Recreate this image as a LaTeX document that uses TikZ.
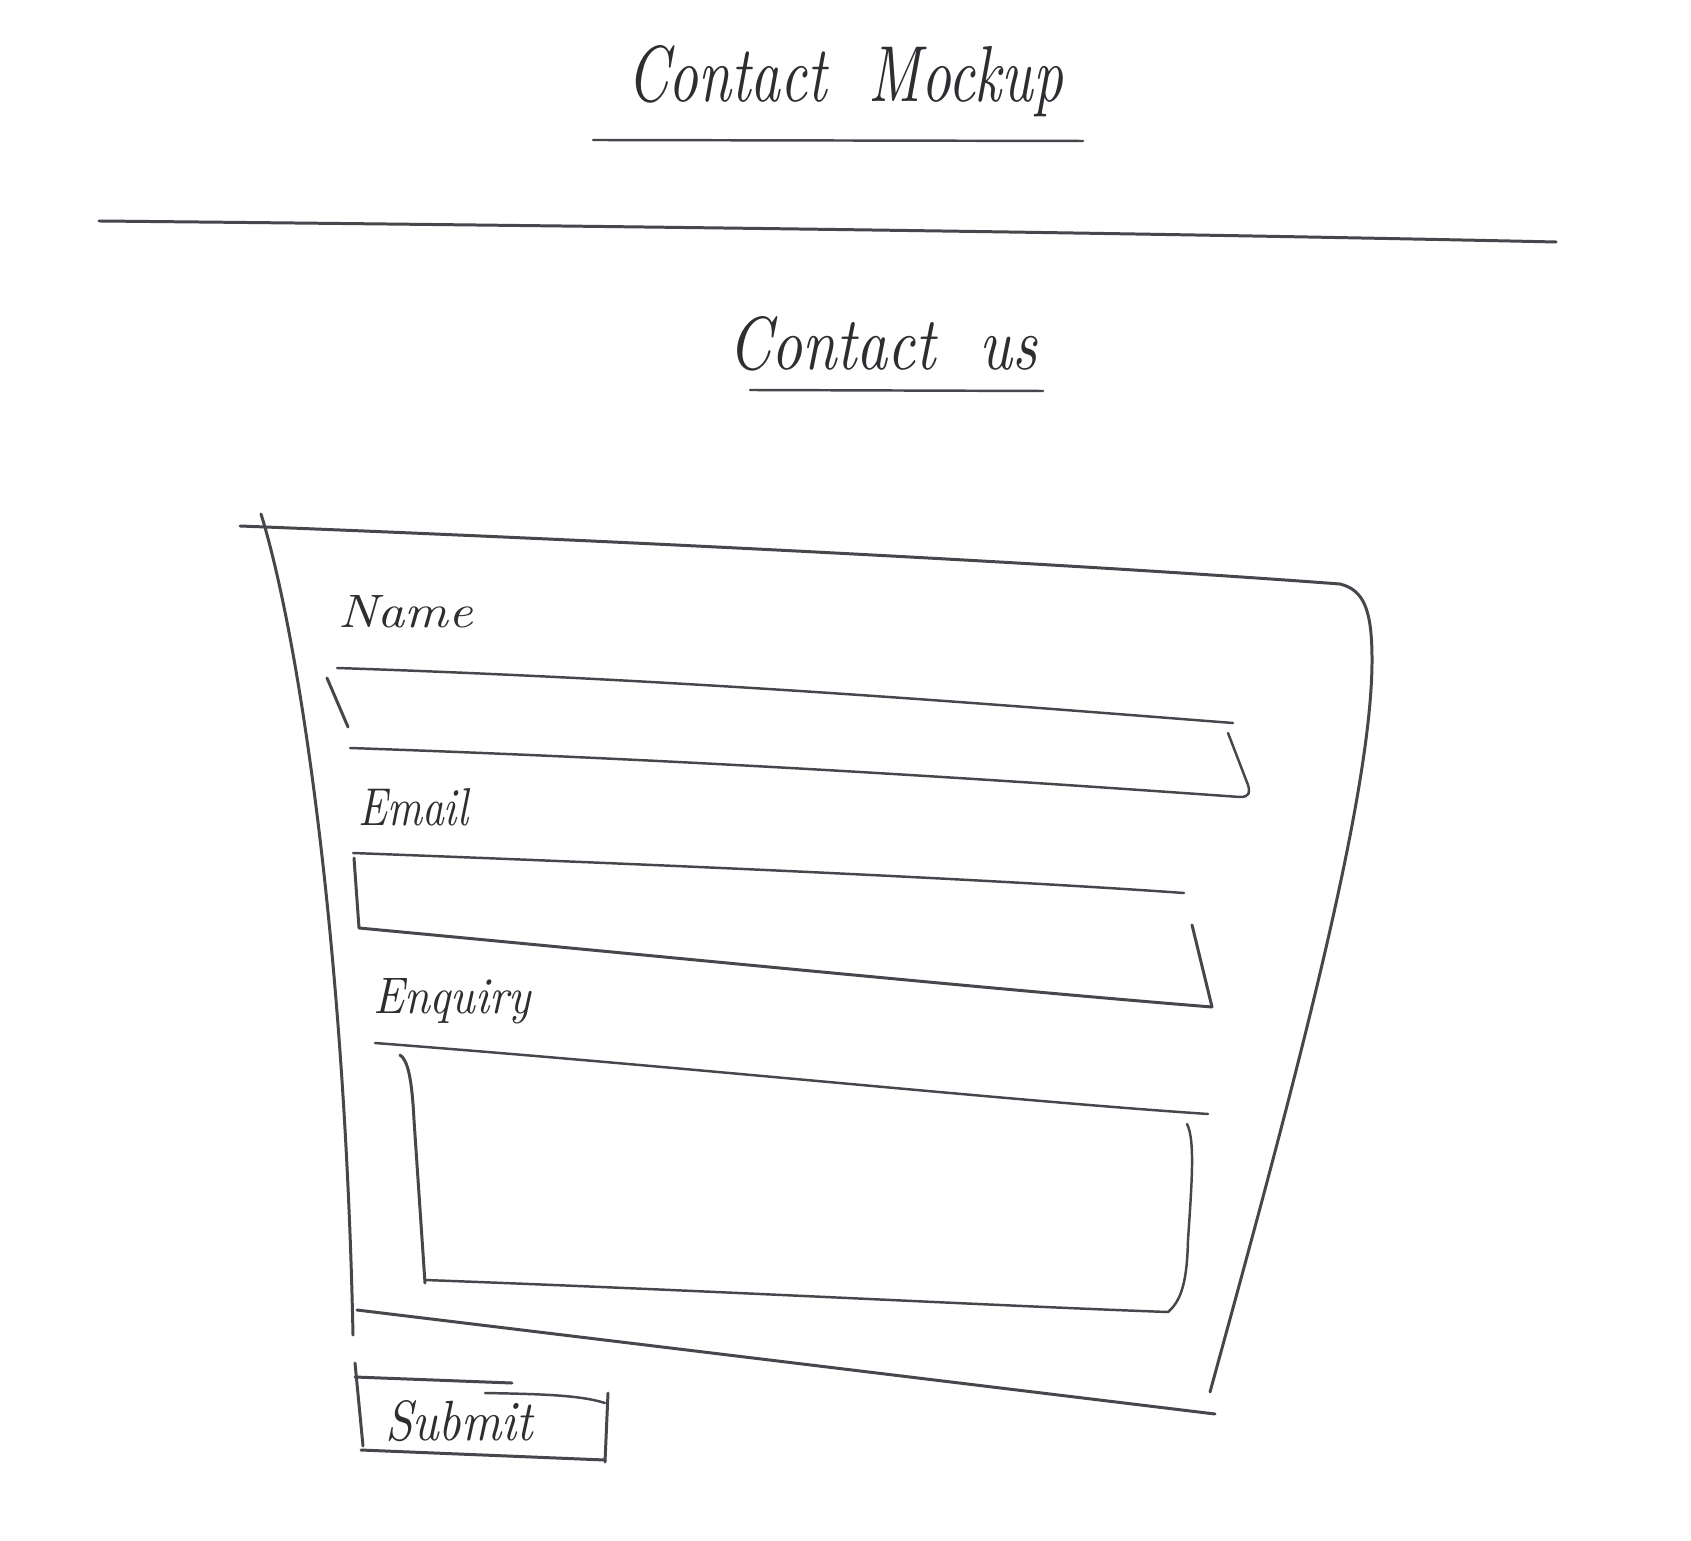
\documentclass[tikz,border=0pt]{standalone}
\usepackage{graphicx}
\definecolor{pen}{RGB}{70,70,76}
\definecolor{ink}{RGB}{45,45,50}
\begin{document}
\begin{tikzpicture}[x=0.1mm,y=-0.1mm,
  stroke/.style={draw=pen,line width=0.85pt,line cap=round,line join=round},
  thin stroke/.style={draw=pen,line width=0.7pt,line cap=round,line join=round},
  hand/.style={inner sep=0pt,outer sep=0pt,text=ink,anchor=base west}]
\useasboundingbox[fill=white] (0,0) rectangle (1691,1541);

% page heading and its rule
\node[hand] (title) at (627,102) {\resizebox{43.6mm}{5.6mm}{\itshape Contact\ \ Mockup}};
\draw[thin stroke] (593,140) -- (1083,141);
\draw[stroke] (99,221) .. controls (600,226) and (1100,232) .. (1556,242);

% form heading
\node[hand] (heading) at (728,370) {\resizebox{30.9mm}{5.3mm}{\itshape Contact\ \ us}};
\draw[thin stroke] (750,390) -- (1043,391);

% outer frame of the form
\draw[stroke] (240,526) .. controls (700,544) and (1100,566) .. (1340,584)
  .. controls (1364,590) and (1372,610) .. (1372,660)
  .. controls (1372,800) and (1290,1100) .. (1210,1392);
\draw[stroke] (261,514) .. controls (300,640) and (345,950) .. (353,1335);
\draw[stroke] (357,1310) -- (1215,1414);

% name field
\node[hand] (lblName) at (338,628) {\resizebox{13.5mm}{3.2mm}{\itshape Name}};
\draw[thin stroke] (337,668) .. controls (700,680) and (1000,705) .. (1233,723);
\draw[stroke] (327,678) -- (348,727);
\draw[thin stroke] (350,748) .. controls (700,760) and (1000,780) .. (1240,797)
  .. controls (1250,797) and (1250,792) .. (1248,785) -- (1228,733);

% email field
\node[hand] (lblEmail) at (358,825) {\resizebox{11.0mm}{3.7mm}{\itshape Email}};
\draw[thin stroke] (353,853) .. controls (700,866) and (1000,880) .. (1184,893);
\draw[stroke] (354,858) -- (359,928)
  .. controls (700,960) and (1000,990) .. (1212,1007) -- (1192,925);

% enquiry field
\node[hand] (lblEnquiry) at (373,1013) {\resizebox{15.8mm}{3.5mm}{\itshape Enquiry}};
\draw[thin stroke] (375,1043) .. controls (700,1068) and (1000,1100) .. (1208,1114);
\draw[stroke] (400,1055) .. controls (408,1060) and (412,1080) .. (414,1120)
  -- (425,1283);
\draw[thin stroke] (425,1280) .. controls (700,1290) and (1000,1306) .. (1168,1312)
  .. controls (1182,1300) and (1187,1280) .. (1188,1240)
  .. controls (1192,1180) and (1195,1140) .. (1187,1124);

% submit button
\node[hand] (btnSubmit) at (385,1440) {\resizebox{14.8mm}{4.0mm}{\itshape Submit}};
\draw[stroke] (355,1363) -- (363,1446);
\draw[stroke] (355,1377) -- (512,1383);
\draw[thin stroke] (485,1393) .. controls (540,1394) and (580,1395) .. (605,1403);
\draw[stroke] (608,1393) -- (605,1462);
\draw[stroke] (361,1450) -- (605,1460);
\end{tikzpicture}
\end{document}
